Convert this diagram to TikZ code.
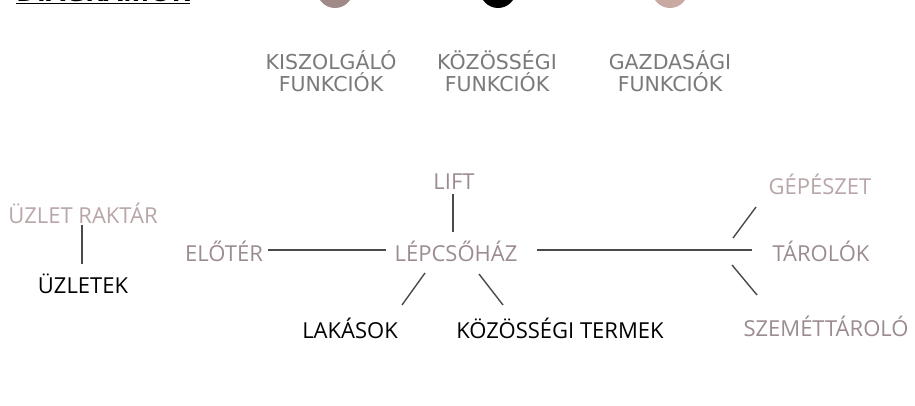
\documentclass[tikz,border=0pt]{standalone}
\usepackage{fontspec}
\setmainfont{Open Sans}
\newfontfamily\legfont{DejaVu Sans}
\definecolor{kisz}{HTML}{A08A88}
\definecolor{gazd}{HTML}{C8AAA2}
\definecolor{leg}{HTML}{7A7A7A}
\definecolor{mauve}{HTML}{9C8C92}
\definecolor{lmauve}{HTML}{B8A6A8}
\definecolor{lnk}{HTML}{4A4A4A}
\tikzset{
  lbl/.style={inner sep=0pt, font=\fontsize{22}{24}\selectfont},
  serv/.style={lbl, text=mauve},
  servl/.style={lbl, text=lmauve},
  comm/.style={lbl, text=black},
  legtxt/.style={inner sep=0pt, align=center, text=leg, font=\legfont\fontsize{20.5}{22.5}\selectfont},
  conn/.style={draw=lnk, line width=1.4pt},
}
\begin{document}
\begin{tikzpicture}[x=1pt,y=-1pt]
\useasboundingbox (0,0) rectangle (915,406);
\clip (0,0) rectangle (915,406);
\fill[white] (0,0) rectangle (915,406);
% title (cut off)
\node[anchor=base west, inner sep=0pt, font=\bfseries\fontsize{28}{30}\selectfont] (title) at (16,2) {\underline{DIAGRAMOK}};
% legend circles
\fill[kisz] (335,-10) circle (18);
\fill[black] (498,-10) circle (18);
\fill[gazd] (670,-10) circle (18);
% legend labels
\node[legtxt] (lk) at (331,71) {KISZOLGÁLÓ\\FUNKCIÓK};
\node[legtxt] (lc) at (497,71) {KÖZÖSSÉGI\\FUNKCIÓK};
\node[legtxt] (lg) at (670,71) {GAZDASÁGI\\FUNKCIÓK};
% diagram nodes
\node[serv] (lift) at (454,182) {LIFT};
\node[serv] (lepcs) at (456,251) {LÉPCSŐHÁZ};
\node[serv] (elot) at (224,251) {ELŐTÉR};
\node[serv] (tar) at (821,251) {TÁROLÓK};
\node[servl] (gep) at (820,184) {GÉPÉSZET};
\node[serv] (szem) at (826,326) {SZEMÉTTÁROLÓ};
\node[comm] (lak) at (350,328) {LAKÁSOK};
\node[comm] (koz) at (560,328) {KÖZÖSSÉGI TERMEK};
\node[servl] (uzr) at (83,213) {ÜZLET RAKTÁR};
\node[comm] (uzl) at (83,284) {ÜZLETEK};
% connectors
\coordinate (a1) at (453,194); \coordinate (a2) at (453,232);
\draw[conn] (a1) -- (a2);
\coordinate (b1) at (268,250); \coordinate (b2) at (386,250);
\draw[conn] (b1) -- (b2);
\coordinate (c1) at (537,250); \coordinate (c2) at (752,250);
\draw[conn] (c1) -- (c2);
\coordinate (d1) at (756,207); \coordinate (d2) at (733,238);
\draw[conn] (d1) -- (d2);
\coordinate (e1) at (732,265); \coordinate (e2) at (757,295);
\draw[conn] (e1) -- (e2);
\coordinate (f1) at (425,273); \coordinate (f2) at (402,305);
\draw[conn] (f1) -- (f2);
\coordinate (g1) at (479,274); \coordinate (g2) at (503,305);
\draw[conn] (g1) -- (g2);
\coordinate (h1) at (82,225); \coordinate (h2) at (82,264);
\draw[conn] (h1) -- (h2);
\end{tikzpicture}
\end{document}
